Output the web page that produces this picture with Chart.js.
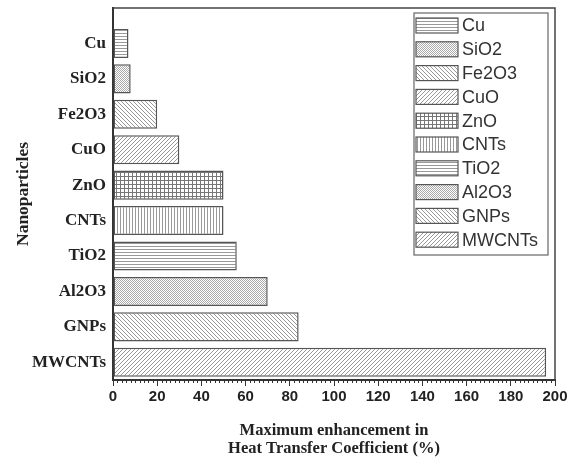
<!DOCTYPE html>
<html>
<head>
<meta charset="utf-8">
<script src="https://cdn.jsdelivr.net/npm/chart.js@4/dist/chart.umd.min.js"></script>
<style>
  html, body { margin: 0; padding: 0; background: #fff; }
  #wrap { width: 573px; height: 461px; position: relative; }
</style>
</head>
<body>
<div id="wrap"><canvas id="chart"></canvas></div>
<script>
const particles = ["Cu", "SiO2", "Fe2O3", "CuO", "ZnO", "CNTs", "TiO2", "Al2O3", "GNPs", "MWCNTs"];
const enhancement = [7, 8, 20, 30, 50, 50, 56, 70, 84, 196];
const hatches = ["hlines", "checker", "back", "fwd", "grid", "vlines", "hlines", "checker", "back", "fwd"];
const xMin = 0, xMax = 200, xStep = 20, xMinorStep = 2;

function hatch(kind) {
  const c = document.createElement("canvas");
  const n = kind === "checker" ? 2 : (kind === "back" || kind === "fwd") ? 4 : kind === "grid" ? 4 : 3;
  c.width = n; c.height = n;
  const g = c.getContext("2d");
  g.fillStyle = "#fff"; g.fillRect(0, 0, n, n);
  g.strokeStyle = "#999"; g.lineWidth = 1;
  if (kind === "hlines") { g.beginPath(); g.moveTo(0, 0.5); g.lineTo(n, 0.5); g.stroke(); }
  if (kind === "vlines") { g.beginPath(); g.moveTo(0.5, 0); g.lineTo(0.5, n); g.stroke(); }
  if (kind === "grid") {
    g.strokeStyle = "#777";
    g.beginPath(); g.moveTo(0, 0.5); g.lineTo(n, 0.5); g.moveTo(0.5, 0); g.lineTo(0.5, n); g.stroke();
  }
  if (kind === "checker") { g.fillStyle = "#aaa"; g.fillRect(0, 0, 1, 1); g.fillRect(1, 1, 1, 1); }
  if (kind === "back") {
    g.beginPath(); g.moveTo(-1, -1); g.lineTo(n + 1, n + 1); g.moveTo(-1, n - 1); g.lineTo(1, n + 1); g.moveTo(n - 1, -1); g.lineTo(n + 1, 1); g.stroke();
  }
  if (kind === "fwd") {
    g.beginPath(); g.moveTo(-1, n + 1); g.lineTo(n + 1, -1); g.moveTo(-1, 1); g.lineTo(1, -1); g.moveTo(n - 1, n + 1); g.lineTo(n + 1, n - 1); g.stroke();
  }
  return g.createPattern(c, "repeat");
}
const fills = hatches.map(hatch);

const frameAndExtras = {
  id: "frameAndExtras",
  afterDraw(chart) {
    const { ctx, chartArea: a, scales: { x } } = chart;
    ctx.save();
    // top and right frame
    ctx.strokeStyle = "#444"; ctx.lineWidth = 1.5;
    ctx.beginPath(); ctx.moveTo(a.left, a.top); ctx.lineTo(a.right, a.top); ctx.lineTo(a.right, a.bottom); ctx.stroke();
    // minor ticks
    ctx.lineWidth = 1; ctx.strokeStyle = "#333";
    ctx.beginPath();
    for (let v = xMin; v <= xMax; v += xMinorStep) {
      if (v % xStep === 0) continue;
      const px = Math.round(x.getPixelForValue(v)) + 0.5;
      ctx.moveTo(px, a.bottom); ctx.lineTo(px, a.bottom + 3);
    }
    ctx.stroke();
    // legend
    const w = 134, rowH = 23.8, left = a.right - w - 7, top = a.top + 5;
    const h = rowH * particles.length + 4;
    ctx.fillStyle = "#fff"; ctx.fillRect(left, top, w, h);
    ctx.strokeStyle = "#666"; ctx.lineWidth = 1.2;
    ctx.strokeRect(left, top, w, h);
    ctx.font = "18px 'Liberation Sans', Arial, sans-serif";
    ctx.textBaseline = "middle"; ctx.textAlign = "left";
    particles.forEach((p, i) => {
      const y = top + 5 + i * rowH;
      ctx.fillStyle = fills[i]; ctx.fillRect(left + 2, y, 42, 15);
      ctx.strokeStyle = "#555"; ctx.lineWidth = 1.2; ctx.strokeRect(left + 2, y, 42, 15);
      ctx.fillStyle = "#333"; ctx.fillText(p, left + 48, y + 8.5);
    });
    ctx.restore();
  }
};

new Chart(document.getElementById("chart"), {
  type: "bar",
  data: {
    datasets: [{
      data: particles.map((p, i) => ({ x: enhancement[i], y: i })),
      backgroundColor: fills,
      borderColor: "#555",
      borderWidth: 1.5,
      borderSkipped: false,
      categoryPercentage: 1,
      barPercentage: 0.82
    }]
  },
  plugins: [frameAndExtras],
  options: {
    indexAxis: "y",
    responsive: true,
    maintainAspectRatio: false,
    animation: false,
    layout: { padding: { top: 8, right: 18, left: 0, bottom: 0 } },
    plugins: { legend: { display: false }, tooltip: { enabled: false } },
    scales: {
      x: {
        type: "linear", position: "bottom", min: xMin, max: xMax,
        ticks: { stepSize: xStep, color: "#222", padding: 2, font: { family: "'Liberation Sans', Arial, sans-serif", weight: "bold", size: 15 } },
        grid: { drawOnChartArea: false, drawTicks: true, tickLength: 6, tickColor: "#333", tickWidth: 1 },
        border: { display: true, color: "#333", width: 2 },
        title: {
          display: true, text: ["Maximum enhancement in", "Heat Transfer Coefficient (%)"],
          color: "#222", padding: { top: 6, bottom: 3 },
          font: { family: "'Liberation Serif', 'Times New Roman', serif", weight: "bold", size: 16.5, lineHeight: 1.12 }
        },
        afterFit(s) { s.height = 81; s.paddingLeft = 0; s.paddingRight = 0; }
      },
      y: {
        type: "linear", position: "left", reverse: true, min: -1, max: 9.5, offset: false,
        ticks: {
          stepSize: 1, autoSkip: false, includeBounds: false, color: "#222", padding: 7,
          font: { family: "'Liberation Serif', 'Times New Roman', serif", weight: "bold", size: 17 },
          callback: (v) => Number.isInteger(v) && particles[v] ? particles[v] : ""
        },
        grid: { drawOnChartArea: false, drawTicks: false },
        border: { display: true, color: "#333", width: 2 },
        title: {
          display: true, text: "Nanoparticles", color: "#222", padding: { top: 13, bottom: 0 },
          font: { family: "'Liberation Serif', 'Times New Roman', serif", weight: "bold", size: 17.5 }
        },
        afterFit(s) { s.width = 113; s.paddingTop = 0; s.paddingBottom = 0; }
      }
    }
  }
});
</script>
</body>
</html>
